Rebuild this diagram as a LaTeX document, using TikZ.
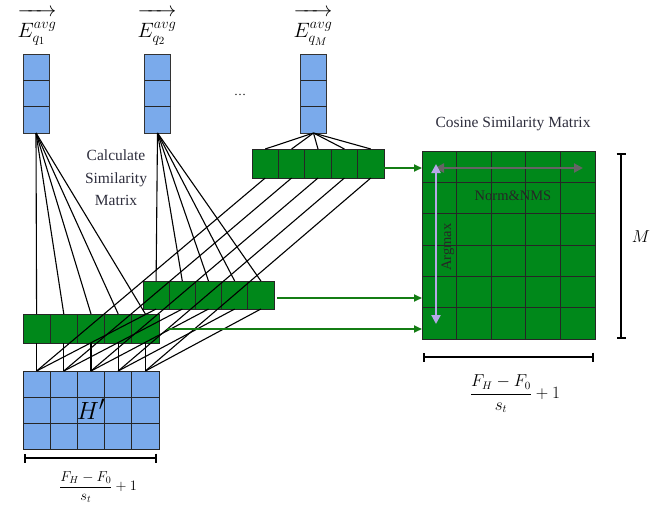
\documentclass[tikz,border=0pt]{standalone}
\usepackage{fontspec}
\setmainfont{Liberation Serif}
\usetikzlibrary{arrows.meta,calc}
\definecolor{qblue}{RGB}{122,170,235}
\definecolor{bgreen}{RGB}{0,136,26}
\definecolor{agreen}{RGB}{20,125,20}
\definecolor{agray}{RGB}{100,100,100}
\definecolor{apurple}{RGB}{182,168,232}
\definecolor{txtc}{RGB}{45,45,60}
\newcommand{\evlabel}[1]{$\displaystyle\overrightarrow{\rule{0pt}{1.02em}E^{avg}_{#1}}$}
\begin{document}
\begin{tikzpicture}[x=1pt,y=-1pt,
  qvec/.style={draw=black!80, fill=qblue, line width=0.9pt, minimum width=26pt, minimum height=79pt, inner sep=0pt, outer sep=0pt},
  gbar/.style={draw=black!85, fill=bgreen, line width=0.9pt, inner sep=0pt, outer sep=0pt},
  hgrid/.style={draw=black!85, fill=qblue, line width=0.9pt, inner sep=0pt, outer sep=0pt},
  cell/.style={black!85, line width=0.9pt},
  link/.style={black, line width=1.1pt},
  garrow/.style={agreen, line width=1.8pt, -{Triangle[length=8pt,width=7pt]}},
  dimbar/.style={black, line width=2pt, {Bar[width=9pt]}-{Bar[width=9pt]}},
  lbl/.style={font=\fontsize{15.5}{22.5}\selectfont, text=txtc, align=center},
  evec/.style={font=\fontsize{22}{26}\selectfont, inner sep=0pt}
]
\useasboundingbox (0,0) rectangle (671,506);

% query vectors
\node[qvec] (q1) at (36,93.5) {};
\node[qvec] (q2) at (157.5,93.5) {};
\node[qvec] (qM) at (313.5,93.5) {};
\foreach \q in {q1,q2,qM}{
  \foreach \i in {1,2}{
    \draw[cell] ($(\q.north west)!\i/3!(\q.south west)$) -- ($(\q.north east)!\i/3!(\q.south east)$);
  }
}
\node[evec] (e1) at (37,27) {\evlabel{q_1}};
\node[evec] (e2) at (157,27) {\evlabel{q_2}};
\node[evec] (eM) at (313,27) {\evlabel{q_M}};
\node[font=\fontsize{12}{14}\selectfont] (dots) at (240,95) {\dots};

% green bars
\node[gbar, minimum width=136pt, minimum height=29pt] (b1) at (91,328.5) {};
\node[gbar, minimum width=131pt, minimum height=28pt] (b2) at (208.5,295) {};
\node[gbar, minimum width=132pt, minimum height=29pt] (b3) at (318,163.5) {};
\foreach \b in {b1,b2,b3}{
  \foreach \i in {1,...,4}{
    \draw[cell] ($(\b.north west)!\i/5!(\b.north east)$) -- ($(\b.south west)!\i/5!(\b.south east)$);
  }
  \foreach \i in {1,...,5}{
    \pgfmathsetmacro{\f}{(\i-0.5)/5}
    \coordinate (\b t\i) at ($(\b.north west)!\f!(\b.north east)$);
    \coordinate (\b b\i) at ($(\b.south west)!\f!(\b.south east)$);
  }
}

% H' grid
\node[hgrid, minimum width=136pt, minimum height=78pt] (H) at (91,410) {};
\foreach \i in {1,...,4}{
  \draw[cell] ($(H.north west)!\i/5!(H.north east)$) -- ($(H.south west)!\i/5!(H.south east)$);
}
\foreach \i in {1,2}{
  \draw[cell] ($(H.north west)!\i/3!(H.south west)$) -- ($(H.north east)!\i/3!(H.south east)$);
}
\foreach \i in {1,...,5}{
  \pgfmathsetmacro{\f}{(\i-0.5)/5}
  \coordinate (Ht\i) at ($(H.north west)!\f!(H.north east)$);
}
\node[font=\fontsize{28}{30}\selectfont] (Hl) at (91,409) {$H'$};

% connectors
\foreach \i in {1,...,5}{
  \draw[link] (q1.south) -- (b1t\i);
  \draw[link] (q2.south) -- (b2t\i);
  \draw[link] (qM.south) -- (b3t\i);
  \draw[link] (b1b\i) -- (Ht\i);
  \draw[link] (b2b\i) -- (Ht\i);
  \draw[link] (b3b\i) -- (Ht\i);
}

\node[lbl] (calc) at (116,178) {Calculate\\Similarity\\Matrix};

% cosine similarity matrix
\node[gbar, minimum width=173pt, minimum height=188pt] (C) at (508.5,245) {};
\foreach \i in {1,...,4}{
  \draw[cell] ($(C.north west)!\i/5!(C.north east)$) -- ($(C.south west)!\i/5!(C.south east)$);
}
\foreach \i in {1,...,5}{
  \draw[cell] ($(C.north west)!\i/6!(C.south west)$) -- ($(C.north east)!\i/6!(C.south east)$);
}
\node[lbl] (ctitle) at (513,124) {Cosine Similarity Matrix};

% green arrows
\coordinate (a3s) at ($(b3.east)+(0,4.5)$);
\coordinate (a2s) at ($(b2.east)+(3,3)$);
\coordinate (a1s) at ($(b1.east)+(8,0.5)$);
\draw[garrow] (a3s) -- (a3s -| C.west);
\draw[garrow] (a2s) -- (a2s -| C.west);
\draw[garrow] (a1s) -- (a1s -| C.west);

% inner arrows
\coordinate (ga) at (435,168);
\coordinate (gb) at (583,168);
\coordinate (pa) at (436,164);
\coordinate (pb) at (436,324);
\draw[agray, line width=2.2pt, {Triangle[length=9pt,width=9pt]}-{Triangle[length=9pt,width=9pt]}] (ga) -- (gb);
\draw[apurple, line width=2.2pt, {Triangle[length=9pt,width=9pt]}-{Triangle[length=9pt,width=9pt]}] (pa) -- (pb);
\node[font=\fontsize{14.5}{16}\selectfont, text=black!85] (nn) at (513,196) {Norm\&NMS};
\node[font=\fontsize{14.5}{16}\selectfont, text=black!85, rotate=90] (am) at (448,247) {Argmax};

% dimension bars
\coordinate (m1) at (621,153);
\coordinate (m2) at (621,339);
\draw[dimbar] (m1) -- (m2);
\node[font=\fontsize{17}{20}\selectfont] (ml) at (641,237) {$M$};
\coordinate (c1) at (423,357);
\coordinate (c2) at (594,357);
\draw[dimbar] (c1) -- (c2);
\node[font=\fontsize{16}{20}\selectfont] (cf) at (515,394) {$\displaystyle\frac{F_H-F_0}{s_t}+1$};
\coordinate (h1) at (24,458);
\coordinate (h2) at (157,458);
\draw[dimbar] (h1) -- (h2);
\node[font=\fontsize{14}{16}\selectfont] (hf) at (98,487) {$\displaystyle\frac{F_H-F_0}{s_t}+1$};
\end{tikzpicture}
\end{document}
